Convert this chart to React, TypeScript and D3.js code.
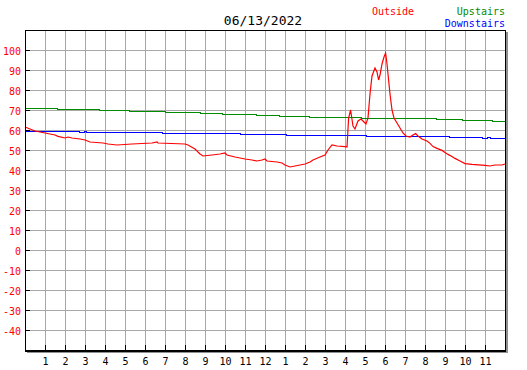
import React from 'react';
import * as d3 from 'd3';

// temperature log for 06/13/2022, hours since midnight
const title = '06/13/2022';
const hourLabels = ['1', '2', '3', '4', '5', '6', '7', '8', '9', '10', '11', '12', '1', '2', '3', '4', '5', '6', '7', '8', '9', '10', '11'];
const yTicks = [100, 90, 80, 70, 60, 50, 40, 30, 20, 10, 0, -10, -20, -30, -40];

const outsideHours = [0, 0.25, 0.5, 0.75, 1, 1.25, 1.5, 1.65, 2, 2.15, 2.35, 2.75, 3, 3.25, 3.9, 4.15, 4.6, 5.35, 6.35, 6.6, 6.65, 8, 8.15, 8.5, 8.75, 8.9, 9.35, 9.75, 10, 10.1, 10.5, 10.75, 11, 11.35, 11.6, 11.85, 12, 12.1, 12.6, 12.85, 13, 13.25, 13.5, 13.75, 14, 14.25, 14.4, 14.75, 15, 15.15, 15.35, 15.6, 16, 16.1, 16.18, 16.28, 16.4, 16.5, 16.65, 16.8, 16.95, 17.05, 17.15, 17.25, 17.35, 17.5, 17.6, 17.68, 17.75, 17.85, 17.95, 18.03, 18.1, 18.18, 18.25, 18.35, 18.45, 18.6, 18.75, 18.9, 19.05, 19.25, 19.4, 19.53, 19.65, 19.85, 20.1, 20.25, 20.4, 20.6, 20.85, 21, 21.15, 21.35, 21.5, 21.75, 22, 22.35, 23, 23.25, 23.5, 23.85, 24];
const outsideTemps = [61.5, 60.5, 59.5, 59, 58.5, 58, 57.5, 56.8, 56, 56.5, 56, 55.5, 55, 54, 53.5, 53, 52.5, 53, 53.5, 54, 53.5, 53, 52.5, 50.5, 48, 47, 47.5, 48, 48.5, 47.5, 46.5, 46, 45.5, 45, 44.5, 45, 45.5, 44.5, 44, 43.5, 42.5, 41.5, 42, 42.5, 43, 44, 45, 46.5, 47.5, 50, 52.5, 52, 51.7, 51.5, 66, 70, 62, 60.5, 64.5, 65.5, 64, 63, 66, 78, 87, 91, 89, 85, 87.5, 93, 96.5, 98.5, 93, 85, 78, 70, 66, 63.5, 61, 58.5, 57, 56.5, 57.5, 58.2, 57, 55.5, 54.5, 53.3, 51.7, 50.8, 49.8, 48.8, 47.8, 46.8, 45.8, 44.5, 43.2, 42.8, 42.3, 42, 42.5, 42.5, 43];

const upstairsHours = [0, 1.6, 3.7, 5.2, 7, 8.75, 9.85, 11.55, 12.7, 14.2, 16.8, 20.55, 21.85, 23.35, 24];
const upstairsTemps = [71, 70.5, 70, 69.5, 69, 68.5, 68, 67.5, 67, 66.5, 66, 65.5, 65, 64.5, 64.5];

const downstairsHours = [0, 2.7, 2.95, 3.05, 6.85, 10.75, 13.05, 17.05, 21.2, 22.85, 23.1, 23.25, 24];
const downstairsTemps = [59.5, 59, 59.5, 59, 58.5, 58, 57.5, 57, 56.5, 56, 56.5, 56, 56];

const W = 527;
const H = 370;
const left = 25, right = 505, top = 30, bottom = 350;
const font = "'DejaVu Sans Mono', monospace";

export default function App() {
  const x = d3.scaleLinear().domain([0, 24]).range([left, right]);
  const y = d3.scaleLinear().domain([-50, 110]).range([bottom, top]);

  const zip = (hs: number[], vs: number[]) => hs.map((h, i) => [h, vs[i]] as [number, number]);
  const line = d3.line<[number, number]>().x(d => x(d[0])).y(d => y(d[1]));
  const stepLine = d3.line<[number, number]>().x(d => x(d[0])).y(d => Math.round(y(d[1])) + 0.5).curve(d3.curveStepAfter);

  return (
    <svg width={W} height={H} style={{ position: 'absolute', left: 0, top: 0, background: '#fff' }}>
      <rect x={0} y={0} width={W} height={H} fill="#fff" />
      {/* drop shadow */}
      <rect x={left + 2} y={top + 2} width={right - left + 1} height={bottom - top + 1} fill="#909090" />
      <rect x={left} y={top} width={right - left} height={bottom - top} fill="#fff" />

      <g stroke="#a8a8a8" strokeWidth={1} shapeRendering="crispEdges">
        {d3.range(1, 24).map(h => (
          <line key={'v' + h} x1={x(h) + 0.5} x2={x(h) + 0.5} y1={top} y2={bottom} />
        ))}
        {yTicks.map(v => (
          <line key={'h' + v} x1={left} x2={right} y1={y(v) + 0.5} y2={y(v) + 0.5} />
        ))}
      </g>

      {/* ticks */}
      <g stroke="#000" strokeWidth={1} shapeRendering="crispEdges">
        {yTicks.map(v => (
          <line key={'yt' + v} x1={left} x2={left + 5} y1={y(v) + 0.5} y2={y(v) + 0.5} />
        ))}
        {d3.range(1, 24).map(h => (
          <line key={'xt' + h} x1={x(h) + 0.5} x2={x(h) + 0.5} y1={bottom - 5} y2={bottom} />
        ))}
      </g>

      <path d={stepLine(zip(upstairsHours, upstairsTemps)) || ''} fill="none" stroke="#008c00" strokeWidth={1} shapeRendering="crispEdges" />
      <path d={stepLine(zip(downstairsHours, downstairsTemps)) || ''} fill="none" stroke="#0000ff" strokeWidth={1} shapeRendering="crispEdges" />
      <path d={line(zip(outsideHours, outsideTemps)) || ''} fill="none" stroke="#ff0000" strokeWidth={1.2} />

      {/* frame */}
      <rect x={left + 0.5} y={top + 0.5} width={right - left} height={bottom - top} fill="none" stroke="#000" strokeWidth={1} shapeRendering="crispEdges" />
      <line x1={left} x2={right + 1} y1={bottom + 1.5} y2={bottom + 1.5} stroke="#000" strokeWidth={1} shapeRendering="crispEdges" />

      <g fontFamily={font} fontSize={10} fill="#ff0000" textAnchor="end">
        {yTicks.map(v => (
          <text key={'yl' + v} x={21} y={y(v) + 4.5}>{v}</text>
        ))}
      </g>
      <g fontFamily={font} fontSize={10} fill="#000" textAnchor="middle">
        {hourLabels.map((l, i) => (
          <text key={'xl' + i} x={x(i + 1) + 0.5} y={365}>{l}</text>
        ))}
      </g>

      <text x={263} y={25} fontFamily={font} fontSize={13} textAnchor="middle" fill="#000">{title}</text>
      <text x={393} y={15} fontFamily={font} fontSize={10} textAnchor="middle" fill="#ff0000">Outside</text>
      <text x={505} y={15} fontFamily={font} fontSize={10} textAnchor="end" fill="#008c00">Upstairs</text>
      <text x={505} y={27} fontFamily={font} fontSize={10} textAnchor="end" fill="#0000ff">Downstairs</text>
    </svg>
  );
}
